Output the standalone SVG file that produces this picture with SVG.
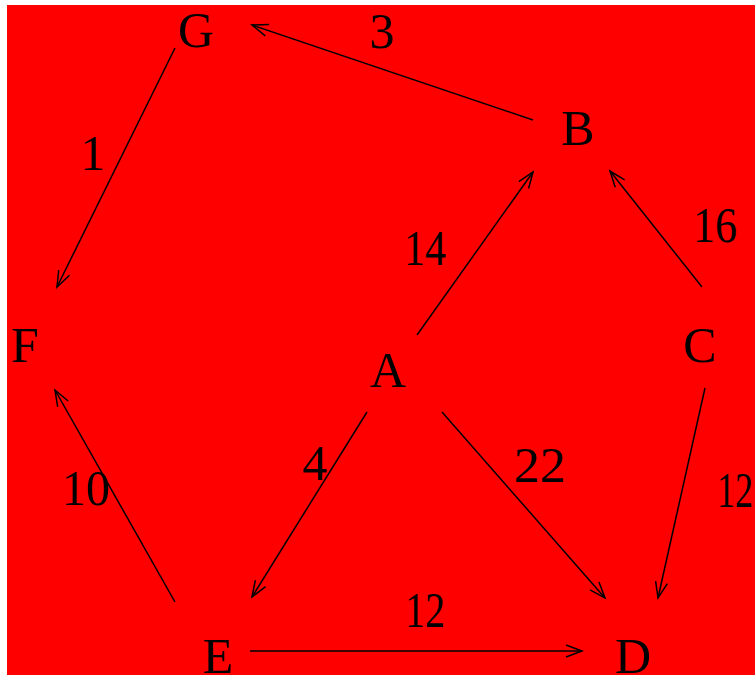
<svg xmlns="http://www.w3.org/2000/svg" width="755" height="675" viewBox="0 0 755 675">
<defs>
<style>
.n{font-family:"Liberation Serif","Times New Roman",serif;font-size:50px;fill:#000;text-anchor:middle}
.l{font-family:"Liberation Serif","Times New Roman",serif;font-size:50px;fill:#000;text-anchor:middle}
.e{stroke:#000;stroke-width:1.5;fill:none;marker-end:url(#ah)}
</style>
<marker id="ah" markerUnits="userSpaceOnUse" markerWidth="22" markerHeight="16" refX="18" refY="7" orient="auto">
<path d="M2,1 L18,7 L2,13" fill="none" stroke="#000" stroke-width="1.5"/>
</marker>
</defs>
<rect x="0" y="0" width="755" height="675" fill="#fff"/>
<rect x="7" y="5" width="748" height="670" fill="#ff0000"/>
<g id="connectors">
<line class="e" x1="533" y1="120" x2="252" y2="25"/>
<line class="e" x1="175" y1="48" x2="57" y2="287"/>
<line class="e" x1="417" y1="335" x2="533" y2="172"/>
<line class="e" x1="702" y1="287" x2="610" y2="171"/>
<line class="e" x1="705" y1="388" x2="658" y2="598"/>
<line class="e" x1="442" y1="412" x2="605" y2="598"/>
<line class="e" x1="367" y1="412" x2="252" y2="597"/>
<line class="e" x1="175" y1="602" x2="55" y2="390"/>
<line class="e" x1="250" y1="651" x2="582" y2="651"/>
</g>
<g id="labels">
<text class="l" x="382" y="48">3</text>
<text class="l" x="93" y="170">1</text>
<text class="l" x="425" y="265" textLength="42" lengthAdjust="spacingAndGlyphs">14</text>
<text class="l" x="715" y="242" textLength="44" lengthAdjust="spacingAndGlyphs">16</text>
<text class="l" x="735" y="507" textLength="36" lengthAdjust="spacingAndGlyphs">12</text>
<text class="l" x="315" y="480">4</text>
<text class="l" x="540" y="482" textLength="52" lengthAdjust="spacingAndGlyphs">22</text>
<text class="l" x="86" y="505" textLength="48" lengthAdjust="spacingAndGlyphs">10</text>
<text class="l" x="425" y="627" textLength="40" lengthAdjust="spacingAndGlyphs">12</text>
</g>
<g id="node-G"><text class="n" x="196" y="47">G</text></g>
<g id="node-B"><text class="n" x="578" y="145">B</text></g>
<g id="node-F"><text class="n" x="25" y="362">F</text></g>
<g id="node-A"><text class="n" x="388" y="387">A</text></g>
<g id="node-C"><text class="n" x="700" y="362">C</text></g>
<g id="node-E"><text class="n" x="218" y="673">E</text></g>
<g id="node-D"><text class="n" x="633" y="673">D</text></g>
</svg>
